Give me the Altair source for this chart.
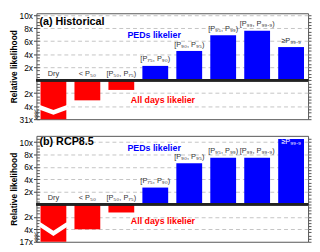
import altair as alt
import pandas as pd

categories = ["Dry", "< P₅₀", "[P₅₀, P₇₅)", "[P₇₅, P₉₀)", "[P₉₀, P₉₅)",
              "[P₉₅, P₉₉)", "[P₉₉, P₉₉.₉)", "≥P₉₉.₉"]
hist_values = [-6.0, -3.1, -1.5, 2.2, 4.5, 6.9, 7.6, 5.1]
rcp_values = [-6.0, -4.0, -1.3, 2.7, 6.6, 7.5, 7.5, 10.5]
major_ticks = [-6, -4, -2, 2, 4, 6, 8, 10]
minor_ticks = [-6, -5.5, -5, -4.5, -4, -3.5, -3, -2.5, -2, -1.5, -1, -0.5, 0,
               0.5, 1, 1.5, 2, 2.5, 3, 3.5, 4, 4.5, 5, 5.5, 6, 6.5, 7, 7.5,
               8, 8.5, 9, 9.5, 10, 10.5]

FONT = "Liberation Sans"
W, H = 277, 108


def panel(values, tag, bottom_label, ymax, tag_y, peds_y, all_y, chev_y, chev_amp):
    df = pd.DataFrame({"cat": categories, "v": values})
    base = alt.Chart(df)
    yscale = alt.Scale(domain=[-6, ymax], nice=False, zero=False)
    xenc = alt.X("cat:N", sort=categories, axis=None,
                 scale=alt.Scale(paddingInner=0.24, paddingOuter=0.12))

    left_axis = alt.Axis(
        orient="left", values=major_ticks,
        labelExpr=f"datum.value == -6 ? '{bottom_label}' : abs(datum.value) + 'x'",
        title="Relative  likelihood", titleFont=FONT, titleFontSize=8.5,
        titleFontWeight="bold", titleColor="black", titlePadding=1,
        labelFont=FONT, labelFontSize=8.5, labelColor="black", labelPadding=1,
        tickSize=3, tickColor="#444", domain=False, grid=True, gridDash=[4, 3],
        gridColor={"condition": {"test": "datum.value == -6", "value": "transparent"},
                   "value": "#c4c4c4"},
    )
    bars = base.mark_bar().encode(
        x=xenc,
        y=alt.Y("v:Q", scale=yscale, axis=left_axis),
        y2=alt.datum(0),
        color=alt.condition("datum.v < 0", alt.value("#ff0000"), alt.value("#0000ff")),
    )
    zero = base.mark_rule(color="#222", strokeWidth=2).encode(
        y=alt.YDatum(0, scale=yscale, axis=alt.Axis(
            orient="right", values=minor_ticks, labels=False, tickSize=3,
            tickColor="#555", domain=False, grid=False, title=None)),
    )
    chev_path = f"M-1.1,{-chev_amp} L0,{chev_amp} L1.1,{-chev_amp}"
    chevron = base.transform_filter("datum.cat == 'Dry'").mark_point(
        shape=chev_path, size=700, filled=False, color="white", stroke="white",
        strokeWidth=4.5, opacity=1, strokeJoin="miter",
    ).encode(
        x=xenc,
        y=alt.YDatum(chev_y, scale=yscale, axis=alt.Axis(
            orient="left", offset=-3, values=minor_ticks, labels=False, tickSize=3,
            tickColor="#555", domain=False, grid=False, title=None)),
    )
    thr = ymax - 1
    labels = base.transform_calculate(
        ly=f"datum.v > {thr} ? {ymax - 2.0} : max(datum.v, 0)"
    ).mark_text(baseline="bottom", dy=-2.5, font=FONT, fontSize=7.5).encode(
        x=xenc,
        y=alt.Y("ly:Q", scale=yscale, axis=None),
        text="cat:N",
        color=alt.condition(f"datum.v > {thr}", alt.value("white"), alt.value("#333")),
    )
    tag_text = alt.Chart(pd.DataFrame({"t": [tag]})).mark_text(
        align="left", baseline="middle", font=FONT, fontSize=11,
        fontWeight="bold", color="black",
    ).encode(x=alt.value(3), y=alt.YDatum(tag_y, scale=yscale, axis=None), text="t:N")
    peds = alt.Chart(pd.DataFrame({"t": ["PEDs likelier"]})).mark_text(
        align="center", baseline="middle", font=FONT, fontSize=9,
        fontWeight="bold", color="#0000ff",
    ).encode(x=alt.value(120), y=alt.YDatum(peds_y, scale=yscale, axis=None), text="t:N")
    alld = alt.Chart(pd.DataFrame({"t": ["All days likelier"]})).mark_text(
        align="center", baseline="middle", font=FONT, fontSize=9,
        fontWeight="bold", color="#ff0000",
    ).encode(x=alt.value(129), y=alt.YDatum(all_y, scale=yscale, axis=None), text="t:N")
    brk = alt.Chart(pd.DataFrame({"t": ["⋙"]})).mark_text(
        align="center", baseline="middle", font="DejaVu Sans", fontSize=8,
        angle=90, color="#444",
    ).encode(x=alt.value(0), y=alt.YDatum(-5.3, scale=yscale, axis=None), text="t:N")

    return alt.layer(bars, chevron, zero, labels, tag_text, peds, alld, brk).resolve_axis(
        y="independent").properties(width=W, height=H)


pa = panel(hist_values, "(a) Historical", "31x", 10.3, 9.0, 7.0, -3.0, -4.55, 0.2)
pb = panel(rcp_values, "(b) RCP8.5", "17x", 11.0, 10.0, 9.0, -2.7, -3.9, 0.36)

chart = alt.vconcat(pa, pb, spacing=11).properties(
    padding={"left": 0, "top": 0, "right": 0, "bottom": 0}
).configure_view(stroke="#555", strokeWidth=1)

chart.save("out.html", embed_options={"renderer": "svg", "actions": False})
